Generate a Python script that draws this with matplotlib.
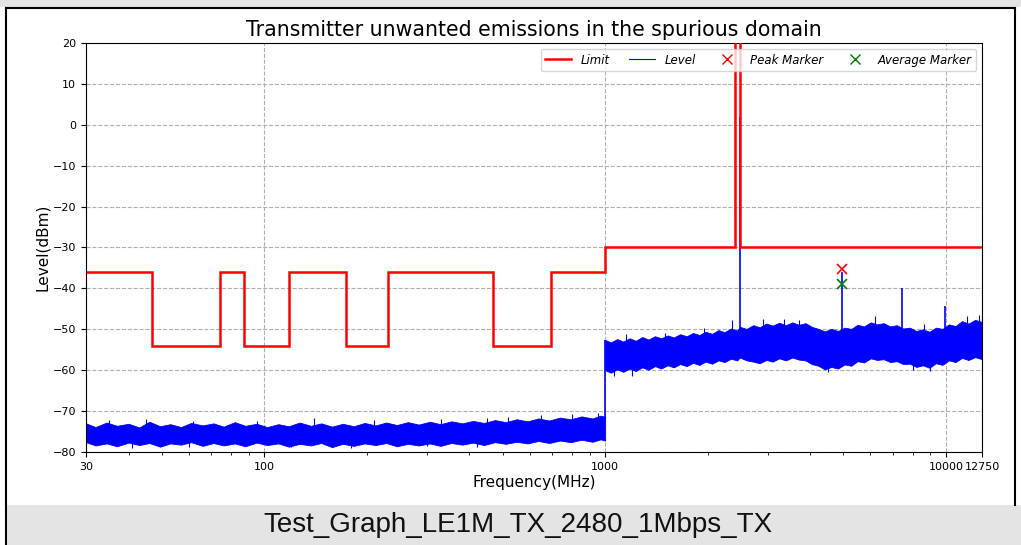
import matplotlib.pyplot as plt
from matplotlib.lines import Line2D
from matplotlib.patches import Rectangle
from matplotlib.ticker import NullFormatter

# Limit mask (MHz edges, dBm levels); in-band section goes off the chart
limit_edges = [30, 47, 74, 87.5, 118, 174, 230, 470, 694, 1000, 2400, 2483.5, 12750]
limit_levels = [-36, -54, -36, -54, -36, -54, -36, -54, -36, -30, 40, -30]

# Noise floor envelope below 1 GHz
low_freq = [30, 32, 34.5, 37, 40, 43, 46, 49.5, 53, 57, 61, 66, 71, 76, 82, 88, 95, 102,
            110, 118, 127, 137, 147, 158, 170, 183, 197, 212, 228, 245, 264, 284, 306,
            329, 354, 381, 410, 441, 475, 511, 550, 592, 637, 685, 737, 793, 853, 918,
            970, 1000]
low_upper = [-73.0, -73.9, -72.8, -73.6, -73.1, -74.0, -72.6, -73.7, -73.2, -73.9, -72.9,
             -73.5, -73.0, -73.8, -72.7, -73.6, -73.1, -73.9, -73.2, -73.7, -72.8, -73.6,
             -73.0, -73.8, -73.1, -73.7, -72.9, -73.5, -72.8, -73.4, -72.7, -73.3, -72.6,
             -73.2, -72.5, -73.0, -72.4, -72.9, -72.2, -72.7, -72.0, -72.5, -71.8, -72.3,
             -71.6, -72.0, -71.3, -71.8, -71.1, -71.4]
low_lower = [-77.6, -78.4, -77.9, -78.6, -77.7, -78.3, -77.8, -78.7, -77.9, -78.2, -77.6,
             -78.5, -77.8, -78.4, -77.9, -78.6, -77.7, -78.3, -77.9, -78.7, -78.0, -78.4,
             -77.8, -78.8, -78.0, -78.5, -77.9, -78.3, -77.8, -78.6, -78.0, -78.4, -77.9,
             -78.5, -77.8, -78.2, -77.7, -78.3, -77.6, -78.0, -77.5, -77.9, -77.3, -77.8,
             -77.2, -77.6, -77.0, -77.5, -76.9, -77.2]

# Noise floor envelope above 1 GHz
high_freq = [1000, 1040, 1085, 1130, 1180, 1230, 1285, 1340, 1400, 1460, 1525, 1590, 1660,
             1735, 1810, 1890, 1970, 2060, 2150, 2240, 2340, 2440, 2484, 2600, 2720, 2840,
             2970, 3100, 3240, 3390, 3540, 3700, 3870, 4040, 4220, 4410, 4610, 4820, 5040,
             5270, 5500, 5750, 6010, 6280, 6560, 6860, 7170, 7490, 7830, 8180, 8550, 8940,
             9340, 9760, 10200, 10660, 11140, 11640, 12170, 12750]
high_upper = [-52.6, -53.2, -52.4, -53.0, -52.2, -52.8, -51.9, -52.5, -51.7, -52.2, -51.5,
              -52.0, -51.2, -51.7, -50.9, -51.4, -50.6, -51.1, -50.2, -50.7, -49.8, -50.3,
              -49.4, -49.9, -49.0, -49.5, -48.6, -49.1, -48.4, -49.0, -48.3, -48.9, -48.5,
              -49.4, -49.9, -50.5, -49.9, -50.4, -49.6, -49.9, -48.9, -49.3, -48.3, -48.8,
              -48.5, -49.3, -49.0, -49.8, -49.6, -50.4, -50.0, -50.6, -49.6, -49.9, -48.8,
              -49.2, -48.0, -48.6, -47.7, -48.2]
high_lower = [-60.0, -60.6, -59.8, -60.4, -59.6, -60.2, -59.3, -59.9, -59.0, -59.6, -58.8,
              -59.3, -58.5, -59.0, -58.2, -58.7, -57.9, -58.4, -57.6, -58.0, -57.2, -57.6,
              -56.9, -57.6, -57.9, -58.3, -57.5, -57.9, -57.1, -57.6, -56.9, -57.4, -57.6,
              -58.5, -58.9, -59.8, -59.2, -59.6, -58.6, -58.9, -57.8, -58.1, -57.1, -57.5,
              -57.3, -58.0, -57.8, -58.5, -58.4, -59.2, -58.8, -59.4, -58.3, -58.7, -57.6,
              -58.0, -57.0, -57.5, -56.8, -57.3]

# Single noise hits sticking out of the band
hit_freq = [35, 45, 62, 95, 140, 210, 330, 450, 520, 650, 800, 950,
            41, 60, 120, 180, 300, 420,
            1150, 1500, 1950, 2350, 2900, 3350, 3700, 6200, 8600, 11500, 12500,
            1060, 1200, 4500, 8000, 9000]
hit_top = [-72.2, -72.0, -72.4, -72.3, -71.8, -72.2, -72.0, -71.7, -71.5, -70.9, -70.6, -70.4,
           -76.0, -76.0, -76.0, -76.0, -76.0, -76.0,
           -51.2, -50.8, -49.6, -47.7, -47.5, -47.6, -47.8, -46.8, -48.6, -46.7, -46.5,
           -54.0, -54.0, -54.0, -54.0, -54.0]
hit_bottom = [-74.0, -74.0, -74.0, -74.0, -74.0, -74.0, -74.0, -73.5, -73.0, -73.0, -72.5, -72.0,
              -78.9, -78.8, -78.8, -78.9, -78.6, -78.7,
              -53.0, -52.5, -51.5, -50.0, -49.5, -49.5, -49.5, -49.0, -51.0, -49.0, -48.5,
              -61.4, -61.5, -60.5, -60.0, -60.2]

# Carrier and harmonics
spike_freq = [2480, 4960, 7440, 9920]
spike_top = [2.0, -35.9, -39.9, -44.3]
spike_base = [-52.0, -52.0, -50.0, -50.0]

peak_freq, peak_level = 4960, -35.3
avg_freq, avg_level = 4960, -39.0

x_ticks = [30, 100, 1000, 10000, 12750]
y_ticks = list(range(-80, 21, 10))

fig = plt.figure(figsize=(10.21, 5.45), dpi=100)

# Page decoration: grey strips and frame lines
fig.patches.append(Rectangle((0, 1 - 7 / 545), 1, 7 / 545, transform=fig.transFigure,
                             facecolor="#e4e4e4", edgecolor="none", zorder=0))
fig.patches.append(Rectangle((7 / 1021, 0), 1, 40 / 545, transform=fig.transFigure,
                             facecolor="#e4e4e4", edgecolor="none", zorder=0))
fig.lines.append(Line2D([6 / 1021, 1015 / 1021], [1 - 7.5 / 545, 1 - 7.5 / 545],
                        transform=fig.transFigure, color="black", lw=1.5))
fig.lines.append(Line2D([6 / 1021, 6 / 1021], [0, 1 - 7.5 / 545],
                        transform=fig.transFigure, color="black", lw=1.5))
fig.lines.append(Line2D([1015 / 1021, 1015 / 1021], [40 / 545, 1 - 7.5 / 545],
                        transform=fig.transFigure, color="black", lw=1.5))
fig.text(518 / 1021, 20 / 545, "Test_Graph_LE1M_TX_2480_1Mbps_TX", ha="center", va="center",
         fontsize=20, family="Liberation Sans", color="#111111")

ax = fig.add_axes([86 / 1021, 1 - 452 / 545, 896 / 1021, 409 / 545])
ax.set_xscale("log")
ax.set_axisbelow(True)

ax.fill_between(low_freq, low_lower, low_upper, color="blue", lw=0.6, edgecolor="blue")
ax.fill_between(high_freq, high_lower, high_upper, color="blue", lw=0.6, edgecolor="blue")
ax.vlines(hit_freq, hit_bottom, hit_top, color="blue", lw=0.8)
ax.vlines([1000], [-72.0], [-52.5], color="blue", lw=1.2)
ax.vlines(spike_freq, spike_base, spike_top, color="blue", lw=1.2)

ax.stairs(limit_levels, limit_edges, baseline=None, color="red", lw=1.8, zorder=3)

ax.plot(peak_freq, peak_level, "x", color="red", ms=7, mew=1.2, zorder=4)
ax.plot(avg_freq, avg_level, "x", color="green", ms=7, mew=1.2, zorder=4)

handles = [Line2D([], [], color="red", lw=1.8),
           Line2D([], [], color="blue", lw=0.8),
           Line2D([], [], color="red", marker="x", ls="none", ms=7),
           Line2D([], [], color="green", marker="x", ls="none", ms=7)]
ax.legend(handles, ["Limit", "Level", "Peak Marker", "Average Marker"], loc="upper right",
          ncol=4, prop={"style": "italic", "size": 8.5}, framealpha=0.8,
          columnspacing=1.6, handlelength=2.2)

ax.set_xlim(30, 12750)
ax.set_ylim(-80, 20)
ax.set_xticks(x_ticks)
ax.set_xticklabels([str(t) for t in x_ticks])
ax.xaxis.set_minor_formatter(NullFormatter())
ax.set_yticks(y_ticks)
ax.tick_params(labelsize=8)
ax.grid(True, which="major", linestyle="--", color="#b0b0b0", lw=0.8)

ax.set_title("Transmitter unwanted emissions in the spurious domain", fontsize=14.8, pad=5)
ax.set_xlabel("Frequency(MHz)", fontsize=11, labelpad=2)
ax.set_ylabel("Level(dBm)", fontsize=11, labelpad=2)

fig.savefig("out.png", dpi=100)
